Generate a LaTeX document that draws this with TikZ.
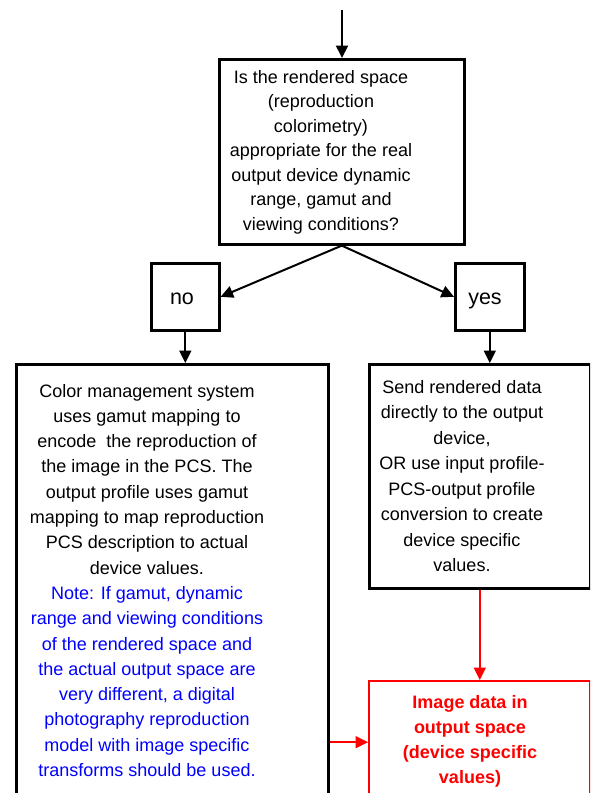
\documentclass[tikz,border=0pt]{standalone}
\usepackage{fontspec}
\setmainfont{Liberation Sans}
\usetikzlibrary{positioning, calc, arrows.meta}

\begin{document}
\begin{tikzpicture}[x=1pt, y=-1pt,
  box/.style={draw, rectangle, line width=2.6pt, inner sep=0pt, anchor=north west},
  redbox/.style={box, draw=red, line width=2.4pt},
  txt/.style={align=center, inner sep=0pt, anchor=base, font=\fontsize{18}{25.2}\selectfont},
  bigtxt/.style={inner sep=0pt, anchor=base, font=\fontsize{21.5}{25}\selectfont},
  arr/.style={line width=2pt, -{Triangle[length=12.5pt,width=12pt]}},
  redarr/.style={arr, draw=red, fill=red}]

  \useasboundingbox (0,0) rectangle (590,793);
  \clip (0,0) rectangle (590,793);

  % question box (texts sit on the base of their last line)
  \node[box, minimum width=245pt, minimum height=185pt] (question) at (218,58) {};
  \node[txt, font=\fontsize{18}{24.5}\selectfont] (questiontxt) at (321,230)
    {Is the rendered space\\
     (reproduction\\
     colorimetry)\\
     appropriate for the real\\
     output device dynamic\\
     range, gamut and\\
     viewing conditions?};

  % answers
  \node[box, minimum width=68pt, minimum height=67pt] (no) at (150,262) {};
  \node[bigtxt] (notxt) at (182,304) {no};
  \node[box, minimum width=69pt, minimum height=67pt] (yes) at (454,262) {};
  \node[bigtxt] (yestxt) at (485,304) {yes};

  % left box
  \node[box, minimum width=312pt, minimum height=439pt] (cms) at (15,363) {};
  \node[txt, font=\fontsize{18}{25.3}\selectfont] (cmstxt) at (147,776.5)
    {Color management system\\
     uses gamut mapping to\\
     encode~~the reproduction of\\
     the image in the PCS. The\\
     output profile uses gamut\\
     mapping to map reproduction\\
     PCS description to actual\\
     device values.\\
     \textcolor{blue}{Note: If gamut, dynamic}\\
     \textcolor{blue}{range and viewing conditions}\\
     \textcolor{blue}{of the rendered space and}\\
     \textcolor{blue}{the actual output space are}\\
     \textcolor{blue}{very different, a digital}\\
     \textcolor{blue}{photography reproduction}\\
     \textcolor{blue}{model with image specific}\\
     \textcolor{blue}{transforms should be used.}};

  % right box
  \node[box, minimum width=221pt, minimum height=224pt] (send) at (368,363) {};
  \node[txt, font=\fontsize{18}{25.5}\selectfont] (sendtxt) at (462,571.5)
    {Send rendered data\\
     directly to the output\\
     device,\\
     OR use input profile-\\
     PCS-output profile\\
     conversion to create\\
     device specific\\
     values.};

  % output box
  \node[redbox, minimum width=221pt, minimum height=122pt] (output) at (368,680) {};
  \node[txt, text=red, font=\fontsize{18}{25}\selectfont\bfseries] (outputtxt) at (470,783)
    {Image data in\\
     output space\\
     (device specific\\
     values)};

  % connectors
  \coordinate (start) at (342,10);
  \draw[arr] (start) -- (start |- question.north);
  \draw[arr] (question.south) -- (no.east);
  \draw[arr] (question.south) -- (yes.west);
  \draw[arr] (no.south) -- (no.south |- cms.north);
  \draw[arr] (yes.south) -- (yes.south |- send.north);
  \draw[redarr] (send.south) -- (send.south |- output.north);
  \draw[redarr] (cms.east |- output.west) -- (output.west);

\end{tikzpicture}
\end{document}
